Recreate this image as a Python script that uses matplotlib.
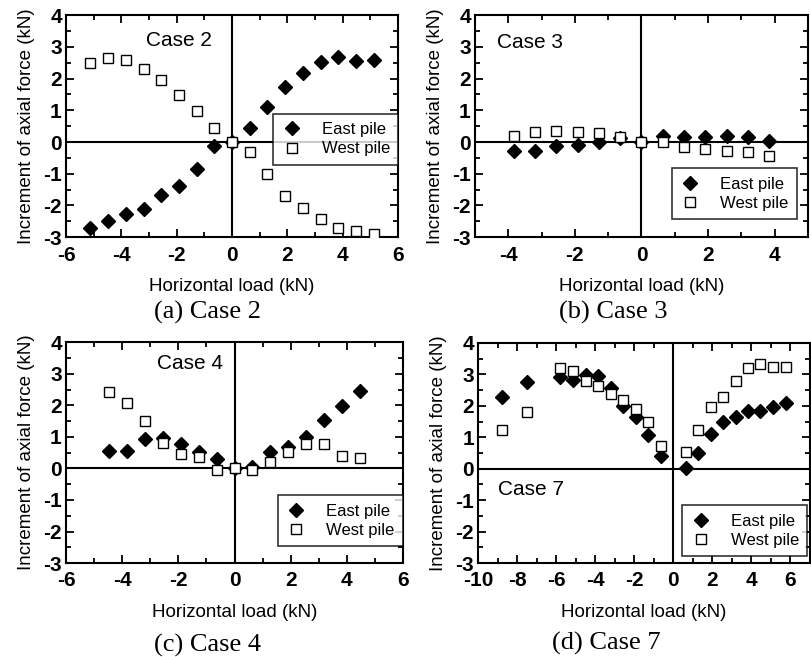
import matplotlib
matplotlib.use('Agg')
from matplotlib import pyplot as plt
from matplotlib.ticker import MultipleLocator

plt.rcParams['font.family'] = ['Liberation Sans', 'DejaVu Sans']
plt.rcParams['axes.unicode_minus'] = False

# ---- data (kN) ----
# (a) Case 2
x_c2 = [-5.12, -4.48, -3.84, -3.20, -2.56, -1.92, -1.28, -0.64, 0.0,
        0.64, 1.28, 1.92, 2.56, 3.20, 3.84, 4.48, 5.12]
east_c2 = [-2.70, -2.48, -2.27, -2.11, -1.67, -1.39, -0.85, -0.12, 0.0,
           0.43, 1.09, 1.72, 2.16, 2.53, 2.69, 2.56, 2.58]
west_c2 = [2.50, 2.65, 2.58, 2.30, 1.97, 1.49, 0.99, 0.43, 0.0,
           -0.30, -1.02, -1.69, -2.09, -2.43, -2.70, -2.79, -2.91]

# (b) Case 3
x_c3 = [-3.84, -3.20, -2.56, -1.92, -1.28, -0.64, 0.0,
        0.64, 1.28, 1.92, 2.56, 3.20, 3.84]
east_c3 = [-0.27, -0.27, -0.14, -0.08, 0.0, 0.13, 0.0,
           0.20, 0.17, 0.17, 0.20, 0.15, 0.02]
west_c3 = [0.20, 0.33, 0.34, 0.31, 0.27, 0.17, 0.0,
           -0.01, -0.17, -0.22, -0.29, -0.33, -0.44]

# (c) Case 4
x_c4 = [-4.48, -3.84, -3.20, -2.56, -1.92, -1.28, -0.64, 0.0,
        0.64, 1.28, 1.92, 2.56, 3.20, 3.84, 4.48]
east_c4 = [0.56, 0.56, 0.92, 0.95, 0.77, 0.53, 0.29, 0.0,
           0.05, 0.53, 0.67, 1.00, 1.53, 1.98, 2.46]
west_c4 = [2.43, 2.06, 1.51, 0.81, 0.45, 0.37, -0.05, 0.0,
           -0.05, 0.19, 0.53, 0.76, 0.77, 0.40, 0.32]

# (d) Case 7
x_c7 = [-8.78, -7.48, -5.80, -5.12, -4.48, -3.84, -3.20, -2.56, -1.92, -1.28, -0.64,
        0.64, 1.28, 1.92, 2.56, 3.20, 3.84, 4.48, 5.12, 5.80]
east_c7 = [2.29, 2.77, 2.91, 2.83, 2.98, 2.96, 2.58, 1.98, 1.66, 1.08, 0.41,
           0.02, 0.50, 1.10, 1.48, 1.66, 1.84, 1.84, 1.95, 2.08]
west_c7 = [1.22, 1.79, 3.21, 3.11, 2.79, 2.63, 2.38, 2.19, 1.89, 1.50, 0.71,
           0.53, 1.24, 1.95, 2.29, 2.79, 3.19, 3.32, 3.25, 3.25]

panels = [
    # x, east, west, xlim, case text, case pos, legend anchor, caption, rect
    (x_c2, east_c2, west_c2, (-6, 6), 'Case 2', (0.24, 0.885), (1.0, 0.555),
     '(a) Case 2', [0.0813, 0.639, 0.409, 0.338]),
    (x_c3, east_c3, west_c3, (-5, 5), 'Case 3', (0.065, 0.875), (0.967, 0.31),
     '(b) Case 3', [0.585, 0.639, 0.410, 0.338]),
    (x_c4, east_c4, west_c4, (-6, 6), 'Case 4', (0.27, 0.905), (1.0, 0.307),
     '(c) Case 4', [0.0813, 0.143, 0.415, 0.336]),
    (x_c7, east_c7, west_c7, (-10, 7), 'Case 7', (0.06, 0.333), (0.993, 0.262),
     '(d) Case 7', [0.589, 0.143, 0.408, 0.335]),
]
caption_pos = [(0.255, 0.524), (0.755, 0.524), (0.255, 0.018), (0.747, 0.021)]

fig = plt.figure(figsize=(8.12, 6.57), dpi=100)

for i, (x, east, west, xlim, case, cpos, lpos, cap, rect) in enumerate(panels):
    ax = fig.add_axes(rect)
    ax.axhline(0, color='black', lw=1.5, zorder=1)
    ax.axvline(0, color='black', lw=1.5, zorder=1)
    ax.plot(x, east, 'D', color='black', ms=7.5, ls='none', label='East pile', zorder=3)
    ax.plot(x, west, 's', mfc='white', mec='black', mew=1.0, ms=6.5, ls='none',
            label='West pile', zorder=4)

    ax.set_xlim(*xlim)
    ax.set_ylim(-3, 4)
    ax.xaxis.set_major_locator(MultipleLocator(2))
    ax.xaxis.set_minor_locator(MultipleLocator(1))
    ax.yaxis.set_major_locator(MultipleLocator(1))
    ax.yaxis.set_minor_locator(MultipleLocator(0.5))
    ax.tick_params(which='both', direction='in', top=True, right=True, width=1.3)
    ax.tick_params(which='major', length=6)
    ax.tick_params(which='minor', length=3.5)
    ax.tick_params(axis='x', pad=6)
    ax.tick_params(axis='y', pad=3)
    for lab in ax.get_xticklabels() + ax.get_yticklabels():
        lab.set_fontsize(15)
        lab.set_fontweight('bold')
    for s in ax.spines.values():
        s.set_linewidth(1.5)

    ax.set_xlabel('Horizontal load (kN)', fontsize=13.5, labelpad=10)
    ax.set_ylabel('Increment of axial force (kN)', fontsize=13.5, labelpad=6)

    ax.text(cpos[0], cpos[1], case, transform=ax.transAxes, fontsize=15,
            ha='left', va='center')

    leg = ax.legend(loc='upper right', bbox_to_anchor=lpos, fontsize=12,
                    frameon=True, fancybox=False, edgecolor='black',
                    borderpad=0.5, handletextpad=1.2, labelspacing=0.25,
                    borderaxespad=0, handlelength=1.2)
    leg.get_frame().set_linewidth(1.2)
    leg.set_zorder(5)

    fig.text(caption_pos[i][0], caption_pos[i][1], cap, fontsize=19,
             family=['Liberation Serif', 'DejaVu Serif'], ha='center', va='center')

fig.savefig('out.png', dpi=100)
